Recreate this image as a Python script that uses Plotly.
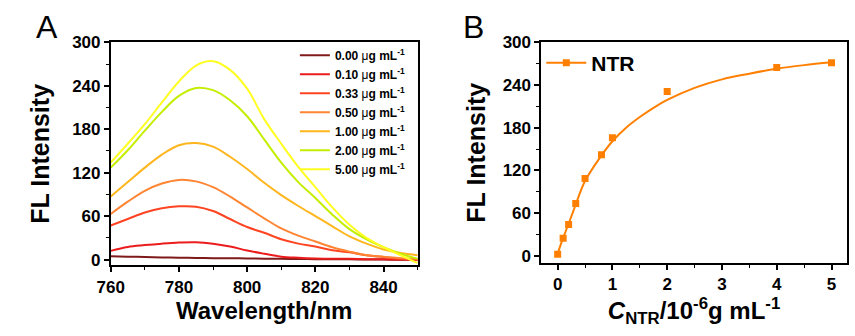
import plotly.graph_objects as go

# ---------------- Panel A data ----------------
wavelength = [760, 765, 770, 775, 780, 785, 790, 795, 800, 805,
              810, 815, 820, 825, 830, 835, 840, 845, 850]
conc_labels = ["0.00 μg mL<sup>-1</sup>", "0.10 μg mL<sup>-1</sup>", "0.33 μg mL<sup>-1</sup>",
               "0.50 μg mL<sup>-1</sup>", "1.00 μg mL<sup>-1</sup>", "2.00 μg mL<sup>-1</sup>",
               "5.00 μg mL<sup>-1</sup>"]
fl_000 = [4.5, 4.0, 3.5, 3.0, 2.5, 2.3, 2.0, 1.8, 1.5, 1.2, 1.0, 0.8, 0.5, 0.4, 0.3, 0.2, 0.0, -0.2, -0.5]
fl_010 = [12, 17.5, 20, 22, 23.5, 24, 22, 18, 12.5, 8, 4, 2.5, 1.5, 1.0, 1.0, 0.5, 0.5, 0.0, 0.0]
fl_033 = [47, 56, 65, 71, 73.5, 73, 67, 56, 45, 37, 28, 22, 18, 13, 10, 6, 3.5, 1, -1]
fl_050 = [63, 80, 95, 105, 110, 108, 100, 87, 72, 57, 43, 33, 25, 17, 11, 6, 4, 2, 1]
fl_100 = [87, 107, 127, 145, 158, 161, 156, 142, 125, 106, 89, 74, 60, 46, 32, 22, 14, 9, 6]
fl_200 = [127, 151, 178, 204, 226, 237, 234, 220, 198, 166, 134, 107, 85, 62, 42, 28, 17, 8, 1]
fl_500 = [134, 160, 187, 217, 246, 268, 274, 262, 236, 194, 160, 128, 100, 72, 48, 30, 17, 6, -5]
spectra = [fl_000, fl_010, fl_033, fl_050, fl_100, fl_200, fl_500]
spectra_colors = ["#7f1a1a", "#ec1c1c", "#ff4422", "#ff8533", "#ffb61e", "#c4ee00", "#ffff22"]

# ---------------- Panel B data ----------------
c_ntr = [0, 0.1, 0.2, 0.33, 0.5, 0.8, 1, 2, 4, 5]
fl_ntr = [2, 24.7, 44, 73.5, 108.5, 142, 166, 231, 264.5, 271.5]
fit_x = [0, 0.1, 0.2, 0.33, 0.5, 0.8, 1, 1.25, 1.5, 1.75, 2, 2.5, 3, 3.5, 4, 4.5, 5]
fit_y = [3, 25, 45, 72, 105, 141, 161, 180, 195, 208, 219, 236, 248, 256, 263, 268, 272]
ntr_color = "#ff8000"

FONT = "Liberation Sans, Arial, sans-serif"

fig = go.Figure()

for lab, ys, col in zip(conc_labels, spectra, spectra_colors):
    fig.add_trace(go.Scatter(
        x=wavelength, y=ys, mode="lines", name="<b>" + lab.replace("μ", "</b>μ<b>") + "</b>",
        line=dict(color=col, width=2, shape="spline", smoothing=1.0),
        xaxis="x", yaxis="y", legend="legend"))

fig.add_trace(go.Scatter(
    x=fit_x, y=fit_y, mode="lines", line=dict(color=ntr_color, width=2, shape="spline"),
    showlegend=False, xaxis="x2", yaxis="y2", hoverinfo="skip"))
fig.add_trace(go.Scatter(
    x=c_ntr, y=fl_ntr, mode="markers", marker=dict(symbol="square", size=7, color=ntr_color),
    showlegend=False, xaxis="x2", yaxis="y2"))
# legend entry for NTR (line + marker)
fig.add_trace(go.Scatter(
    x=[None], y=[None], mode="lines+markers", name="<b>NTR</b>",
    line=dict(color=ntr_color, width=2), marker=dict(symbol="square", size=7, color=ntr_color),
    xaxis="x2", yaxis="y2", legend="legend2"))

axis_common = dict(
    showline=True, linecolor="black", linewidth=1.6, mirror=True,
    ticks="outside", ticklen=5, tickwidth=1.5, tickcolor="black",
    showgrid=False, zeroline=False,
    tickfont=dict(family=FONT, size=17, color="black", weight="bold"),
)

fig.update_layout(
    width=855, height=336,
    margin=dict(l=0, r=0, t=0, b=0),
    paper_bgcolor="white", plot_bgcolor="white",
    font=dict(family=FONT, color="black"),
    xaxis=dict(domain=[0.115, 0.480], range=[760, 850], dtick=20, tick0=760,
               minor=dict(dtick=10, ticks="outside", ticklen=3, tickcolor="black", tickwidth=1.2),
               title=dict(text="<b>Wavelength/nm</b>", font=dict(family=FONT, size=24), standoff=2),
               anchor="y", **axis_common),
    yaxis=dict(domain=[0.2063, 0.8967], range=[-8, 300], dtick=60, tick0=0,
               minor=dict(dtick=30, ticks="outside", ticklen=3, tickcolor="black", tickwidth=1.2),
               title=dict(text="<b>FL Intensity</b>", font=dict(family=FONT, size=25), standoff=15),
               anchor="x", **axis_common),
    xaxis2=dict(domain=[0.6269, 0.9903], range=[-0.3, 5.28], dtick=1, tick0=0,
                minor=dict(dtick=0.5, ticks="outside", ticklen=3, tickcolor="black", tickwidth=1.2),
                title=dict(text="<b><i>C</i><sub>NTR</sub>/10<sup>-6</sup>g mL<sup>-1</sup></b>",
                           font=dict(family=FONT, size=24), standoff=2),
                anchor="y2", **axis_common),
    yaxis2=dict(domain=[0.2134, 0.8967], range=[-10.3, 300], dtick=60, tick0=0,
                minor=dict(dtick=30, ticks="outside", ticklen=3, tickcolor="black", tickwidth=1.2),
                title=dict(text="<b>FL Intensity</b>", font=dict(family=FONT, size=25), standoff=10),
                anchor="x2", **axis_common),
    legend=dict(x=0.334, y=0.902, xanchor="left", yanchor="top",
                bgcolor="rgba(0,0,0,0)", font=dict(family=FONT, size=12, color="black"),
                tracegroupgap=0, itemwidth=30),
    legend2=dict(x=0.627, y=0.896, xanchor="left", yanchor="top",
                 bgcolor="rgba(0,0,0,0)", font=dict(family=FONT, size=21, color="black"),
                 itemwidth=40),
    annotations=[
        dict(text="A", x=34 / 855, y=1 - 19 / 336, xref="paper", yref="paper",
             xanchor="center", yanchor="middle",
             showarrow=False, font=dict(family=FONT, size=32, color="black")),
        dict(text="B", x=467 / 855, y=1 - 19 / 336, xref="paper", yref="paper",
             xanchor="center", yanchor="middle",
             showarrow=False, font=dict(family=FONT, size=32, color="black")),
    ],
)

fig.write_html("out.html")
